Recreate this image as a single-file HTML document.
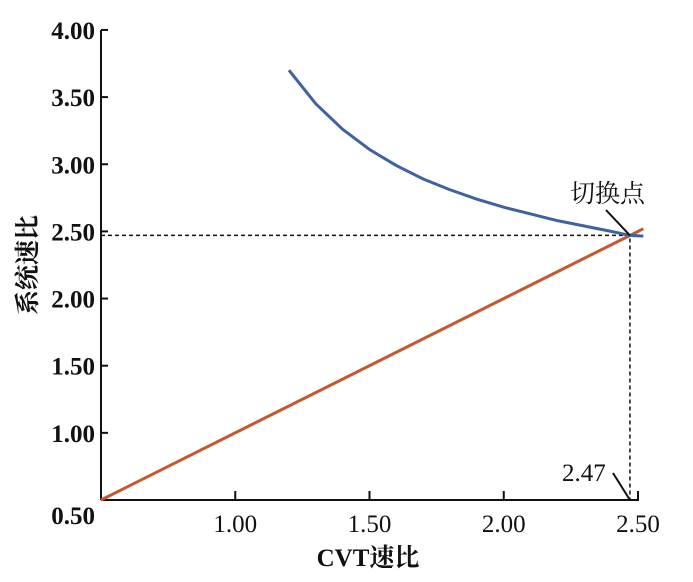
<!DOCTYPE html>
<html><head><meta charset="utf-8"><style>
body{margin:0;background:#fff}
svg text{font-family:"Liberation Serif","Noto Serif CJK SC",serif;fill:#111}
</style></head><body>
<svg width="693" height="577">
<g id="g"></g>
</svg>
<script>
const xTicks=[0.5,1.0,1.5,2.0,2.5];
const yTicks=[0.5,1.0,1.5,2.0,2.5,3.0,3.5,4.0];
const blueX=[1.2,1.3,1.4,1.5,1.6,1.7,1.8,1.9,2.0,2.1,2.2,2.3,2.4,2.47,2.52];
const blueY=[3.70,3.45,3.26,3.11,2.99,2.89,2.81,2.74,2.68,2.63,2.58,2.54,2.50,2.47,2.465];
const redX=[0.5,2.52];
const redY=[0.5,2.52];
const switchX=2.47, switchY=2.47;
const X=v=>101+(v-0.5)*268.5;
const Y=v=>500-(v-0.5)*134.3;
const g=document.getElementById('g');
const NS='http://www.w3.org/2000/svg';
function el(t,a,txt){const e=document.createElementNS(NS,t);for(const k in a)e.setAttribute(k,a[k]);if(txt!=null)e.textContent=txt;g.appendChild(e);return e;}
let e;
e=el('line',{x1:X(0.5),y1:Y(0.5),x2:X(0.5),y2:Y(4),stroke:'#111','stroke-width':2});

e=el('line',{x1:X(0.5),y1:Y(0.5),x2:X(2.5)+1,y2:Y(0.5),stroke:'#111','stroke-width':2});

yTicks.forEach(v=>{
 e=el('line',{x1:X(0.5),y1:Y(v),x2:X(0.5)+7,y2:Y(v),stroke:'#111','stroke-width':2});
 
 e=el('text',{x:95,y:v===0.5?Y(v)+24:Y(v)+9,'text-anchor':'end','font-size':25,'font-weight':'bold'},v.toFixed(2));
 
});
xTicks.forEach(v=>{
 if(v===0.5)return;
 e=el('line',{x1:X(v),y1:Y(0.5),x2:X(v),y2:Y(0.5)-9,stroke:'#111','stroke-width':2});
 
 e=el('text',{x:X(v),y:532,'text-anchor':'middle','font-size':25},v.toFixed(2));
 
});
e=el('path',{d:'M'+X(0.5)+' '+Y(switchY)+'H'+X(switchX)+'V'+Y(0.5),fill:'none',stroke:'#111','stroke-width':1.5,'stroke-dasharray':'4 3'});

e=el('polyline',{points:redX.map((x,i)=>X(x)+','+Y(redY[i])).join(' '),fill:'none',stroke:'#c8562e','stroke-width':3});

let d='';blueX.forEach((x,i)=>{d+=(i?'L':'M')+X(x)+' '+Y(blueY[i]);});
e=el('path',{d:d,fill:'none',stroke:'#3f63a0','stroke-width':3,'stroke-linejoin':'round'});

e=el('line',{x1:606,y1:210,x2:X(switchX),y2:Y(switchY),stroke:'#111','stroke-width':2});

e=el('text',{x:570,y:202,'font-size':25},'切换点');

e=el('line',{x1:613,y1:473,x2:X(switchX),y2:Y(0.5),stroke:'#111','stroke-width':2});

e=el('text',{x:562,y:481,'font-size':25},'2.47');

e=el('text',{x:368,y:566,'text-anchor':'middle','font-size':25,'font-weight':'bold'},'CVT速比');

e=el('text',{x:0,y:0,'text-anchor':'middle','font-size':25,'font-weight':'bold',transform:'translate(36,265) rotate(-90)'},'系统速比');

</script>
</body></html>
